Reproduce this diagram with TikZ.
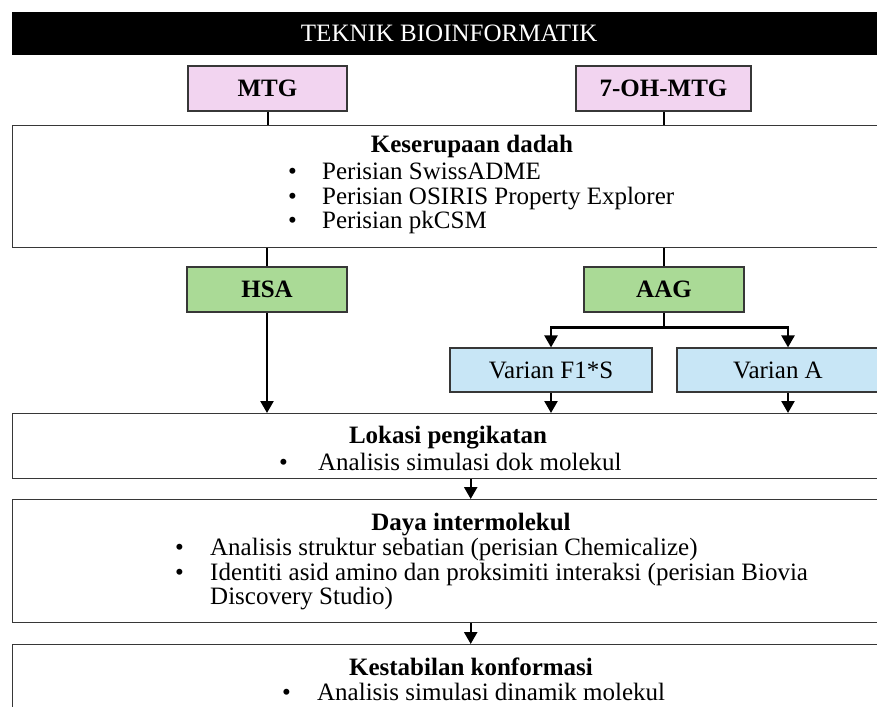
\documentclass[tikz,border=0pt]{standalone}
\usepackage{fontspec}
\setmainfont{Liberation Serif}
\usetikzlibrary{arrows.meta,positioning,calc}

\definecolor{molpink}{RGB}{242,212,240}
\definecolor{protgreen}{RGB}{170,218,150}
\definecolor{varblue}{RGB}{200,230,246}
\definecolor{edgegray}{RGB}{55,55,55}

\newcommand{\itm}[2][34pt]{\makebox[#1][l]{\textbullet}#2}

\begin{document}
\begin{tikzpicture}[
    x=1pt, y=-1pt,
    font=\fontsize{25}{24.5}\selectfont,
    bar/.style={fill=black, text=white, minimum width=874, minimum height=43, inner sep=0pt},
    bigbox/.style={draw=edgegray, line width=1.4pt, fill=white, minimum width=878, anchor=north west, inner sep=0pt},
    molbox/.style={draw=edgegray, line width=1.2pt, fill=molpink, minimum height=45, inner sep=0pt, font=\fontsize{25}{25}\selectfont\bfseries},
    protbox/.style={molbox, fill=protgreen, minimum width=160},
    varbox/.style={draw=edgegray, line width=1.2pt, fill=varblue, minimum width=202, minimum height=44, inner sep=0pt},
    head/.style={font=\fontsize{25}{24.5}\selectfont\bfseries, inner sep=0pt, anchor=base},
    items/.style={align=left, anchor=north west, inner sep=0pt},
    link/.style={line width=2pt},
    arr/.style={line width=2.4pt, -{Triangle[length=12pt, width=13pt]}}
]
\useasboundingbox (0,0) rectangle (877,706);

\node[bar, anchor=north west] (bar) at (12,12) {TEKNIK BIOINFORMATIK};

\node[molbox, minimum width=159] (mtg) at (267.5,88.5) {MTG};
\node[molbox, minimum width=175] (ohmtg) at (663.5,88.5) {7-OH-MTG};

% keserupaan dadah
\node[bigbox, minimum height=122] (drug) at (12,125) {};
\node[head] (drugT) at (472,152) {Keserupaan dadah};
\node[items] (drugL) at (288,163) {\itm{Perisian SwissADME}\\ \itm{Perisian OSIRIS Property Explorer}\\ \itm{Perisian pkCSM}};

\node[protbox] (hsa) at (267,289.5) {HSA};
\node[protbox] (aag) at (664,289.5) {AAG};

\node[varbox] (f1s) at (551,370) {Varian F1*S};
\node[varbox] (vara) at (778,370) {Varian A};

% lokasi pengikatan
\node[bigbox, minimum height=65] (site) at (12,413) {};
\node[head] (siteT) at (448,443) {Lokasi pengikatan};
\node[items] (siteL) at (279,453) {\itm[39pt]{Analisis simulasi dok molekul}};

% daya intermolekul
\node[bigbox, minimum height=123] (force) at (12,499) {};
\node[head] (forceT) at (471,530) {Daya intermolekul};
\node[items] (forceL) at (175,538) {\itm[35pt]{Analisis struktur sebatian (perisian Chemicalize)}\\ \itm[35pt]{Identiti asid amino dan proksimiti interaksi (perisian Biovia}\\ \hspace*{35pt}Discovery Studio)};

% kestabilan konformasi
\node[bigbox, minimum height=90] (conf) at (12,644) {};
\node[head] (confT) at (471,675) {Kestabilan konformasi};
\node[items] (confL) at (282,683) {\itm[35pt]{Analisis simulasi dinamik molekul}};

\coordinate (split) at ($(aag.south)+(0,15)$);

\foreach \a/\b in {mtg/drug, ohmtg/drug}
  \draw[link] (\a.south) -- (\a.south |- \b.north);
\foreach \a/\b in {hsa/drug, aag/drug}
  \draw[link] (\a.north) -- (\a.north |- \b.south);
\draw[link] (aag.south) -- (split);
\draw[arr] (split) -| (f1s.north);
\draw[arr] (split) -| ([xshift=10]vara.north);
\draw[arr] (hsa.south) -- (hsa.south |- site.north);
\draw[arr] (f1s.south) -- (f1s.south |- site.north);
\draw[arr] ([xshift=10]vara.south) -- ([xshift=10]vara.south |- site.north);
\draw[arr] ([xshift=19]site.south) -- ([xshift=19]force.north);
\draw[arr] ([xshift=19]force.south) -- ([xshift=19]conf.north);
\end{tikzpicture}
\end{document}
